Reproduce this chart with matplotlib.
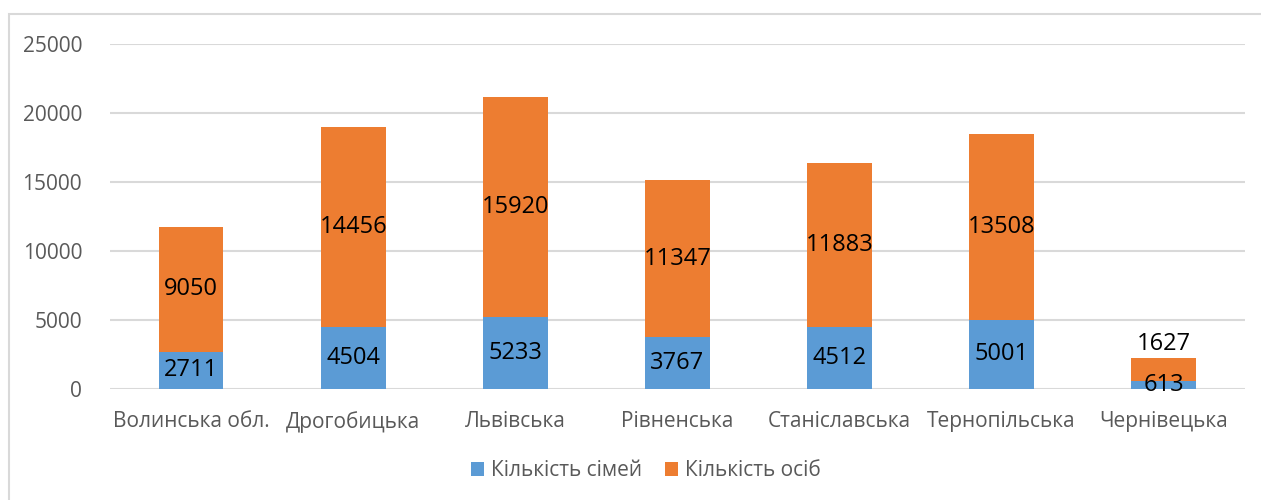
import matplotlib
matplotlib.use('Agg')
import matplotlib.pyplot as plt
import numpy as np
from matplotlib.patches import Rectangle

regions = ['Волинська обл.', 'Дрогобицька', 'Львівська', 'Рівненська',
           'Станіславська', 'Тернопільська', 'Чернівецька']
families = [2711, 4504, 5233, 3767, 4512, 5001, 613]
persons = [9050, 14456, 15920, 11347, 11883, 13508, 1627]
yticks = [0, 5000, 10000, 15000, 20000, 25000]

blue = '#5B9BD5'
orange = '#ED7D31'
grey_text = '#595959'

plt.rcParams['font.family'] = ['Open Sans', 'DejaVu Sans']

fig = plt.figure(figsize=(12.61, 5.0), dpi=100)
ax = fig.add_axes([0.0872, 0.222, 0.9, 0.69])

# chart frame like in Excel
fig.patches.append(Rectangle((9 / 1261, -0.1), 1.2, 1 - 14 / 500 + 0.1,
                             transform=fig.transFigure, fill=False,
                             edgecolor='#D9D9D9', linewidth=1.5))

x = np.arange(len(regions))
b1 = ax.bar(x, families, width=0.4, color=blue, label='Кількість сімей', zorder=3)
b2 = ax.bar(x, persons, width=0.4, bottom=families, color=orange,
            label='Кількість осіб', zorder=3)

for i in range(len(regions)):
    ax.text(x[i], families[i] / 2, str(families[i]), ha='center', va='center',
            fontsize=17, color='black', zorder=4)
    if persons[i] > 3000:
        ax.text(x[i], families[i] + persons[i] / 2, str(persons[i]), ha='center',
                va='center', fontsize=17, color='black', zorder=4)
    else:
        ax.text(x[i], families[i] + persons[i] + 150, str(persons[i]), ha='center',
                va='bottom', fontsize=17, color='black', zorder=4)

ax.set_xlim(-0.5, len(regions) - 0.5)
ax.set_ylim(0, 25000)
ax.set_yticks(yticks)
ax.set_xticks(x)
ax.set_xticklabels(regions)
ax.tick_params(axis='both', length=0, labelsize=15, labelcolor=grey_text)
ax.tick_params(axis='y', pad=20)
ax.tick_params(axis='x', pad=16)
ax.grid(axis='y', color='#D9D9D9', linewidth=1.5, zorder=0)
for s in ax.spines.values():
    s.set_visible(False)

leg = fig.legend(handles=[b1, b2], loc='center', bbox_to_anchor=(0.512, 0.058), ncol=2,
                 frameon=False, fontsize=15, handlelength=0.65, handleheight=0.65,
                 handletextpad=0.3, columnspacing=1.1)
for t in leg.get_texts():
    t.set_color(grey_text)

fig.savefig('out.png', dpi=100)
